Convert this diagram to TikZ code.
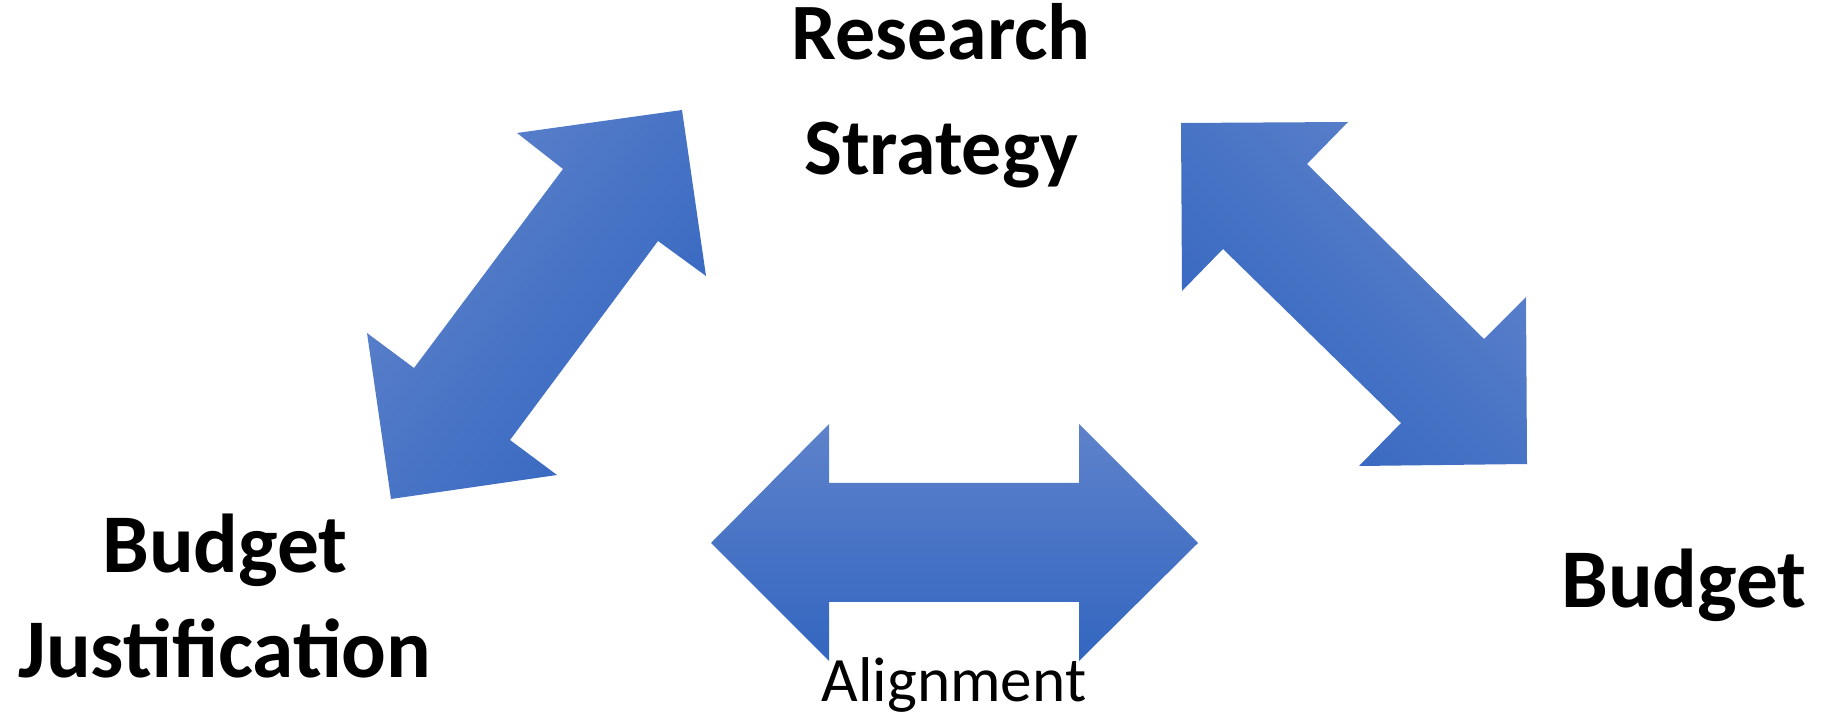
\documentclass[tikz,border=0pt]{standalone}
\usepackage{fontspec}
\setmainfont{Carlito}
\usepackage{tikz}
\definecolor{arrowlight}{RGB}{94,130,203}
\definecolor{arrowdark}{RGB}{51,102,192}
\tikzset{
  bigarrow/.style={top color=arrowlight, bottom color=arrowdark},
  headline/.style={font=\bfseries\fontsize{45.5}{66}\selectfont, align=center, inner sep=0pt, anchor=base},
  sideline/.style={font=\bfseries\fontsize{47.5}{59.2}\selectfont, align=center, inner sep=0pt, anchor=base}
}

\begin{document}
\begin{tikzpicture}[x=0.02cm, y=-0.02cm]
   \useasboundingbox (0,0) rectangle (1825,715);
   \shade[bigarrow, shading angle=53] (682,110) -- (706,276) -- (658,241) -- (510,440) -- (557,475) -- (391,499)
      -- (367,333) -- (414,368) -- (563,169) -- (517,133) -- cycle;
   \shade[bigarrow, shading angle=-45] (1181,123) -- (1348,122) -- (1307,164) -- (1484,339) -- (1526,297) -- (1527,464)
      -- (1359,466) -- (1401,423) -- (1223,249) -- (1182,291) -- cycle;
   \shade[bigarrow] (711,543) -- (829,424) -- (829,483) -- (1079,483) -- (1079,424) -- (1198,543)
      -- (1079,661) -- (1079,602) -- (829,602) -- (829,661) -- cycle;
   \node[headline] (research) at (941,175) {Research\\Strategy};
   \node[sideline] (justification) at (225,677) {Budget\\Justification};
   \node[sideline] (budget) at (1684,607) {Budget};
   \node[font=\fontsize{36}{40}\selectfont, inner sep=0pt, anchor=base] (alignment) at (954,701) {Alignment};
\end{tikzpicture}
\end{document}
